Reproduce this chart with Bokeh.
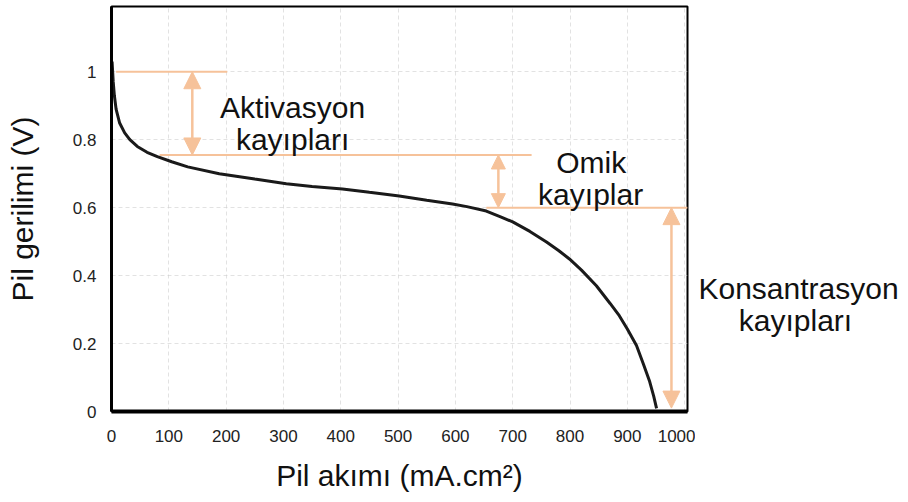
from bokeh.plotting import figure
from bokeh.layouts import row
from bokeh.models import Range1d, FixedTicker, Label, Arrow, NormalHead, ColumnDataSource
from bokeh.embed import file_html
from bokeh.resources import INLINE

# ---- data ----
current = [1, 3, 5, 8, 14, 23, 32, 45, 62, 80, 105, 133, 188, 250, 305, 350, 403, 450, 502, 550, 595,
           620, 654, 680, 700, 730, 759, 780, 799, 820, 846, 870, 886, 900, 916, 928, 939, 946, 951]
voltage = [1.03, 0.97, 0.93, 0.89, 0.85, 0.82, 0.80, 0.78, 0.763, 0.75, 0.735, 0.72, 0.70, 0.684,
           0.67, 0.662, 0.655, 0.645, 0.634, 0.622, 0.611, 0.603, 0.59, 0.572, 0.558, 0.53, 0.499,
           0.474, 0.449, 0.416, 0.37, 0.318, 0.282, 0.243, 0.194, 0.14, 0.088, 0.045, 0.009]

ref_x0 = [8, 84, 654]
ref_x1 = [202, 733, 1005]
ref_y = [1.0, 0.755, 0.6]

arrow_x = [141, 675, 977]
arrow_top = [1.0, 0.755, 0.6]
arrow_bottom = [0.755, 0.6, 0.01]

x_ticks = [0, 100, 200, 300, 400, 500, 600, 700, 800, 900, 1000]
y_ticks = [0, 0.2, 0.4, 0.6, 0.8, 1.0]
y_tick_labels = {0: "0", 0.2: "0.2", 0.4: "0.4", 0.6: "0.6", 0.8: "0.8", 1.0: "1"}

labels_main = [("Aktivasyon", 316, 0.895), ("kayıpları", 316, 0.802),
               ("Omik", 837, 0.734), ("kayıplar", 836, 0.640)]
labels_side = [("Konsantrasyon", 103, 0.361), ("kayıpları", 100, 0.268)]

FONT = "Liberation Sans"
ORANGE = "#F6C29A"

yr = Range1d(0, 1.192)
p = figure(width=695, height=494, output_backend="svg", toolbar_location=None,
           x_range=Range1d(0, 1005), y_range=yr,
           min_border_left=111, min_border_right=8, min_border_top=6, min_border_bottom=83)

p.outline_line_color = "black"
p.outline_line_width = 2

for ax in (p.xaxis[0], p.yaxis[0]):
    ax.major_tick_line_color = None
    ax.minor_tick_line_color = None
    ax.axis_line_color = "black"
    ax.major_label_text_font = FONT
    ax.major_label_text_font_size = "17px"
    ax.major_label_text_color = "#222222"
    ax.axis_label_text_font = FONT
    ax.axis_label_text_font_size = "30px"
    ax.axis_label_text_font_style = "normal"
    ax.axis_label_text_color = "#111111"

p.xaxis[0].ticker = FixedTicker(ticks=x_ticks)
p.yaxis[0].ticker = FixedTicker(ticks=y_ticks)
p.yaxis[0].major_label_overrides = y_tick_labels
p.xaxis[0].axis_line_width = 4
p.yaxis[0].axis_line_width = 3
p.xaxis[0].major_label_standoff = 12
p.yaxis[0].major_label_standoff = 9
p.xaxis.axis_label = "Pil akımı (mA.cm²)"
p.yaxis.axis_label = "Pil gerilimi (V)"
p.xaxis[0].axis_label_standoff = 14
p.yaxis[0].axis_label_standoff = 31

p.grid.grid_line_color = "#cfcfcf"
p.grid.grid_line_alpha = 0.6
p.grid.grid_line_dash = "4 3"
p.grid.grid_line_width = 1

# reference lines
src = ColumnDataSource(dict(x0=ref_x0, x1=ref_x1, y=ref_y))
p.segment(x0="x0", y0="y", x1="x1", y1="y", source=src, line_color=ORANGE, line_width=2)

# polarization curve
p.line(current, voltage, line_color="#1a1a1a", line_width=3)

# double arrows
head_sizes = [17, 14, 17]
for xa, yt, yb, hs in zip(arrow_x, arrow_top, arrow_bottom, head_sizes):
    p.add_layout(Arrow(
        start=NormalHead(size=hs, fill_color=ORANGE, line_color=ORANGE, line_width=1),
        end=NormalHead(size=hs, fill_color=ORANGE, line_color=ORANGE, line_width=1),
        x_start=xa, y_start=yt, x_end=xa, y_end=yb,
        line_color=ORANGE, line_width=2.5))

for txt, lx, ly in labels_main:
    p.add_layout(Label(x=lx, y=ly, text=txt, text_align="center", text_baseline="alphabetic",
                       text_font=FONT, text_font_size="30px", text_color="#111111"))

# side panel for the concentration-loss label (outside the plot frame)
p2 = figure(width=208, height=494, output_backend="svg", toolbar_location=None,
            x_range=Range1d(0, 208), y_range=yr,
            min_border_left=0, min_border_right=0, min_border_top=6, min_border_bottom=83)
p2.axis.visible = False
p2.grid.visible = False
p2.outline_line_color = None
for txt, lx, ly in labels_side:
    p2.add_layout(Label(x=lx, y=ly, text=txt, text_align="center", text_baseline="alphabetic",
                        text_font=FONT, text_font_size="30px", text_color="#111111"))

layout = row(p, p2)
open("out.html", "w").write(file_html(layout, INLINE))
